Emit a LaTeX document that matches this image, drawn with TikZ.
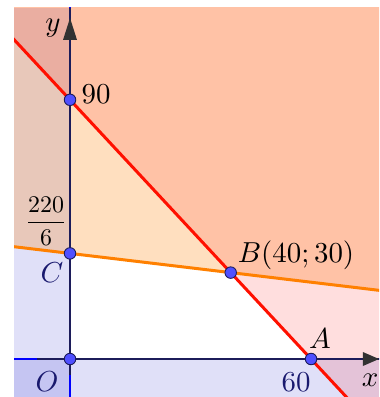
\documentclass[tikz,border=0pt]{standalone}
\usepackage{tikz}
\definecolor{lred}{RGB}{255,16,0}
\definecolor{lorange}{RGB}{255,128,0}
\definecolor{axisnavy}{RGB}{28,28,90}
\definecolor{ptblue}{RGB}{80,80,255}
\definecolor{hblue}{RGB}{0,0,200}
\definecolor{labnavy}{RGB}{25,25,110}
\definecolor{arrowgray}{RGB}{50,50,50}
\begin{document}
\begin{tikzpicture}[x=4.017bp,y=2.88bp,
  lbl/.style={scale=2.9, inner sep=0pt},
  pt/.style={circle, fill=ptblue, draw=axisnavy, line width=0.9bp, minimum size=11.5bp, inner sep=0pt},
  halfplane/.style={fill opacity=#1},
  axisline/.style={draw=axisnavy, line width=2.8bp},
  bline/.style={draw=blue, line width=2.8bp},
  redline/.style={draw=lred, line width=3bp},
  orangeline/.style={draw=lorange, line width=3bp},
  tip/.style={fill=arrowgray}
]
\useasboundingbox (-17.43,-13.19) rectangle (76.92,124.65);
% key points
\coordinate (r1) at (-20,120);
\coordinate (r2) at (80,-30);
\coordinate (o1) at (-20,40);
\coordinate (o2) at (80,23.3333);
\coordinate (xl) at (-20,0);
\coordinate (xr) at (80,0);
\coordinate (yb) at (0,-20);
\coordinate (yt) at (0,130);
\coordinate (xs) at (-8.2,0);
\coordinate (xe) at (76.92,0);
\coordinate (ys) at (0,-5.56);
\coordinate (ye) at (0,121.88);
\begin{scope}
\clip (-13.94,-13.19) rectangle (76.92,121.88);
% half-planes
\fill[hblue, halfplane=0.12] (-13.94,-13.19) rectangle (0,121.88);
\fill[hblue, halfplane=0.12] (-13.94,-13.19) rectangle (76.92,0);
\fill[lorange, halfplane=0.25] (o1) -- (o2) -- (80,130) -- (-20,130) -- cycle;
\fill[red, halfplane=0.13] (r1) -- (r2) -- (80,130) -- (-20,130) -- cycle;
% boundary lines
\draw[bline] (xl) -- (xr);
\draw[bline] (yb) -- (yt);
\draw[axisline] (xs) -- (xe);
\draw[axisline] (ys) -- (ye);
\draw[orangeline] (o1) -- (o2);
\draw[redline] (r1) -- (r2);
% arrow heads
\fill[tip] (76.92,0) -- (72.9,2.43) -- (72.9,-2.43) -- cycle;
\fill[tip] (0,118.4) -- (1.74,110.8) -- (-1.74,110.8) -- cycle;
\end{scope}
% points
\node[pt] (O) at (0,0) {};
\node[pt] (A) at (60,0) {};
\node[pt] (B) at (40,30) {};
\node[pt] (C) at (0,36.6667) {};
\node[pt] (D) at (0,90) {};
% labels
\node[lbl] (ylab) at (-4.23,114.9) {$y$};
\node[lbl] (xlab) at (74.68,-7.3) {$x$};
\node[lbl] (l90) at (6.47,92.0) {$90$};
\node[inner sep=0pt, scale=2.4] (lfrac) at (-5.97,47.9) {$\displaystyle\frac{220}{6}$};
\node[lbl, text=labnavy] (lC) at (-4.48,29.9) {$C$};
\node[lbl, text=labnavy] (lO) at (-5.73,-8.0) {$O$};
\node[lbl, text=labnavy] (l60) at (56.26,-7.9) {$60$};
\node[lbl] (lA) at (62.24,6.94) {$A$};
\node[lbl] (lB) at (56.26,36.1) {$B(40;30)$};
\end{tikzpicture}
\end{document}
